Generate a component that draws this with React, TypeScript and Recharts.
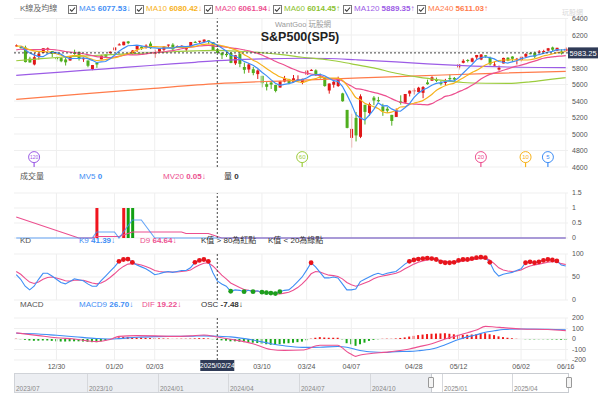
import React from 'react';
import {
  ComposedChart,
  Bar,
  Line,
  XAxis,
  YAxis,
  CartesianGrid,
  ReferenceLine,
  ReferenceDot,
  Cell
} from 'recharts';

const FONT = '"Liberation Sans", Arial, "Noto Sans CJK TC", sans-serif';

const BLUE = '#3f8ef5';
const YELLOW = '#f7b21b';
const PINK = '#ec4f8f';
const LGREEN = '#9ccc3d';
const PURPLE = '#9c5ce6';
const SALMON = '#ff7b4a';
const UP = '#e01818';
const DOWN = '#4fae1e';
const GRID = '#efefef';

// daily candles, 2024/12/16 .. 2025/06/16
const open = [
  6063, 6053, 6048, 5913, 5843, 5941, 5984, 6024, 6006, 5920,
  5920, 5903, 5891, 5982, 5994, 5911, 5891, 5788, 5866, 5905,
  5965, 5979, 6015, 6081, 6076, 6122, 5970, 6026, 6058, 6050,
  6096, 5969, 5998, 6021, 6072, 6083, 6047, 6050, 6025, 6060,
  6116, 6121, 6118, 6135, 6114, 6027, 5983, 5970, 5981, 5857,
  5969, 5812, 5782, 5785, 5726, 5705, 5604, 5624, 5594, 5563,
  5636, 5662, 5632, 5647, 5630, 5718, 5776, 5771, 5696, 5679,
  5527, 5597, 5581, 5492, 5292, 4953, 5194, 4966, 5354, 5255,
  5441, 5411, 5335, 5306, 5232, 5207, 5395, 5381, 5490, 5529,
  5508, 5499, 5625, 5646, 5656, 5617, 5628, 5679, 5679, 5807,
  5863, 5897, 5876, 5929, 5903, 5954, 5921, 5841, 5781, 5855,
  5925, 5939, 5903, 5897, 5938, 5979, 5985, 5987, 6004, 6010,
  6049, 6010, 6000, 6004
];
const high = [
  6085, 6057, 6071, 5936, 5982, 5978, 6040, 6049, 6006, 5941,
  5930, 5935, 5949, 6022, 6001, 5928, 5891, 5837, 5871, 5960,
  5965, 6001, 6052, 6100, 6119, 6128, 6017, 6070, 6062, 6087,
  6120, 6023, 6042, 6062, 6084, 6101, 6073, 6076, 6063, 6116,
  6128, 6129, 6147, 6135, 6115, 6043, 5993, 6009, 5994, 5959,
  5987, 5865, 5861, 5813, 5783, 5705, 5636, 5642, 5597, 5646,
  5704, 5669, 5715, 5711, 5670, 5776, 5786, 5784, 5732, 5685,
  5613, 5651, 5695, 5500, 5292, 5246, 5267, 5481, 5354, 5381,
  5460, 5450, 5367, 5329, 5232, 5310, 5469, 5485, 5528, 5554,
  5572, 5581, 5659, 5700, 5684, 5649, 5668, 5721, 5691, 5845,
  5906, 5907, 5925, 5958, 5968, 5954, 5938, 5878, 5829, 5925,
  5930, 5943, 5922, 5937, 5979, 5991, 5999, 6017, 6021, 6043,
  6059, 6045, 6027, 6050
];
const low = [
  6059, 6035, 5867, 5866, 5832, 5902, 5982, 6007, 5932, 5879,
  5870, 5830, 5889, 5960, 5890, 5874, 5809, 5773, 5802, 5905,
  5931, 5976, 6007, 6076, 6075, 6089, 5962, 5995, 6019, 6035,
  6031, 5924, 5990, 6007, 6052, 6019, 6045, 6043, 6004, 6052,
  6103, 6100, 6111, 6089, 6009, 5977, 5909, 5933, 5858, 5837,
  5810, 5732, 5742, 5712, 5667, 5565, 5528, 5546, 5505, 5563,
  5626, 5603, 5622, 5640, 5603, 5718, 5765, 5703, 5671, 5573,
  5489, 5561, 5571, 5391, 5069, 4835, 4910, 4950, 5115, 5220,
  5349, 5387, 5220, 5256, 5101, 5207, 5356, 5371, 5455, 5478,
  5505, 5434, 5597, 5646, 5629, 5588, 5593, 5640, 5644, 5780,
  5856, 5868, 5868, 5907, 5895, 5924, 5831, 5826, 5768, 5855,
  5882, 5874, 5843, 5879, 5922, 5966, 5921, 5979, 5994, 6000,
  6003, 6004, 5963, 6004
];
const close = [
  6074, 6051, 5872, 5867, 5931, 5974, 6040, 6038, 5971, 5907,
  5882, 5869, 5942, 5975, 5909, 5918, 5827, 5836, 5843, 5950,
  5937, 5997, 6049, 6086, 6119, 6101, 6012, 6068, 6039, 6071,
  6041, 5995, 6038, 6061, 6084, 6026, 6066, 6069, 6052, 6115,
  6115, 6130, 6144, 6118, 6013, 5983, 5955, 5956, 5862, 5955,
  5850, 5778, 5843, 5739, 5770, 5615, 5572, 5599, 5522, 5639,
  5675, 5615, 5675, 5663, 5668, 5768, 5777, 5712, 5693, 5581,
  5612, 5633, 5671, 5397, 5074, 5062, 4983, 5457, 5268, 5363,
  5406, 5397, 5276, 5283, 5158, 5288, 5376, 5485, 5525, 5529,
  5561, 5569, 5604, 5687, 5650, 5607, 5631, 5664, 5660, 5844,
  5887, 5893, 5917, 5958, 5964, 5940, 5845, 5842, 5803, 5922,
  5889, 5912, 5912, 5936, 5970, 5971, 5939, 6000, 6006, 6039,
  6022, 6045, 5977, 6033
];

const ma5 = [
  null, 6062, 6020, 5983, 5959, 5939, 5937, 5970, 5991, 5986,
  5968, 5933, 5914, 5915, 5915, 5923, 5914, 5893, 5867, 5875,
  5879, 5913, 5955, 6004, 6038, 6070, 6073, 6077, 6068, 6058,
  6046, 6043, 6037, 6041, 6044, 6041, 6055, 6061, 6059, 6066,
  6083, 6096, 6111, 6124, 6104, 6078, 6043, 6005, 5954, 5942,
  5916, 5880, 5858, 5833, 5796, 5749, 5708, 5659, 5616, 5589,
  5601, 5610, 5625, 5653, 5659, 5678, 5710, 5718, 5724, 5706,
  5675, 5646, 5638, 5579, 5477, 5367, 5237, 5195, 5169, 5227,
  5295, 5378, 5342, 5345, 5304, 5280, 5276, 5318, 5366, 5441,
  5495, 5534, 5558, 5590, 5614, 5623, 5636, 5648, 5642, 5681,
  5737, 5790, 5840, 5900, 5924, 5934, 5925, 5910, 5879, 5870,
  5860, 5874, 5888, 5914, 5924, 5940, 5946, 5963, 5977, 5991,
  6001, 6022, 6018, 6023
];
const ma10 = [
  6065, 6065, 6044, 6023, 6007, 5999, 6000, 5995, 5987, 5973,
  5954, 5935, 5942, 5953, 5951, 5946, 5924, 5904, 5891, 5895,
  5901, 5914, 5924, 5936, 5957, 5975, 5993, 6016, 6036, 6048,
  6058, 6058, 6057, 6055, 6051, 6044, 6049, 6049, 6050, 6055,
  6062, 6076, 6086, 6092, 6085, 6080, 6070, 6058, 6039, 6023,
  5997, 5962, 5932, 5894, 5869, 5833, 5794, 5759, 5725, 5693,
  5675, 5659, 5642, 5635, 5624, 5640, 5660, 5672, 5689, 5683,
  5677, 5678, 5678, 5652, 5592, 5521, 5442, 5417, 5374, 5352,
  5331, 5308, 5269, 5257, 5266, 5288, 5327, 5330, 5356, 5373,
  5388, 5405, 5438, 5478, 5528, 5559, 5585, 5603, 5616, 5648,
  5680, 5713, 5744, 5771, 5803, 5836, 5858, 5875, 5890, 5897,
  5897, 5900, 5899, 5897, 5897, 5900, 5910, 5926, 5946, 5958,
  5971, 5984, 5991, 6000
];
const ma20 = [
  6020, 6027, 6025, 6023, 6022, 6022, 6025, 6025, 6024, 6018,
  6010, 6000, 5993, 5988, 5979, 5973, 5962, 5950, 5939, 5934,
  5928, 5925, 5933, 5945, 5954, 5961, 5959, 5960, 5964, 5972,
  5980, 5986, 5991, 5996, 6004, 6010, 6021, 6033, 6043, 6052,
  6060, 6067, 6072, 6074, 6068, 6062, 6060, 6054, 6045, 6039,
  6030, 6019, 6009, 5993, 5977, 5957, 5932, 5909, 5882, 5858,
  5836, 5811, 5787, 5765, 5747, 5737, 5727, 5716, 5707, 5688,
  5676, 5669, 5660, 5644, 5608, 5581, 5551, 5545, 5532, 5518,
  5504, 5493, 5474, 5455, 5429, 5405, 5385, 5374, 5365, 5363,
  5360, 5357, 5354, 5368, 5397, 5424, 5456, 5467, 5486, 5511,
  5534, 5559, 5591, 5625, 5666, 5698, 5722, 5739, 5753, 5773,
  5789, 5807, 5822, 5834, 5850, 5868, 5884, 5901, 5918, 5928,
  5934, 5942, 5945, 5949
];
// slow averages read every few sessions
const ma60At = [0, 5, 10, 15, 20, 25, 30, 35, 40, 45, 50, 55, 60, 64, 70, 75, 80, 85, 90, 95, 100, 105, 110, 115, 120, 123];
const ma60 = [5888, 5910, 5930, 5945, 5958, 5972, 5985, 5997, 6008, 6014, 6003, 5985, 5958, 5930, 5897, 5851, 5802, 5736, 5690, 5654, 5624, 5615, 5613, 5632, 5665, 5682];
const ma120At = [0, 10, 20, 30, 40, 45, 55, 64, 70, 76, 85, 92, 100, 110, 123];
const ma120 = [5711, 5751, 5790, 5830, 5869, 5889, 5910, 5918, 5915, 5900, 5875, 5850, 5828, 5812, 5805];
const ma240At = [0, 15, 30, 45, 60, 77, 90, 105, 123];
const ma240 = [5420, 5486, 5550, 5611, 5645, 5680, 5705, 5733, 5760];

// volume (index has almost none)
const volAt = [18, 24, 25, 26];
const volVal = [1, 1, 1, 1];
const volUp = [true, true, false, false];
const mv5At = [0, 17, 18, 22, 23, 24, 25, 26, 28, 29, 30, 31, 123];
const mv5 = [0, 0, 0.2, 0.2, 0, 0.2, 0.4, 0.6, 0.6, 0.4, 0.2, 0, 0];
const mv20At = [0, 14, 17, 18, 23, 24, 25, 26, 37, 38, 43, 44, 45, 46, 123];
const mv20 = [0.7, 0, 0, 0.05, 0.05, 0.1, 0.15, 0.2, 0.2, 0.15, 0.15, 0.1, 0.05, 0, 0];

const k9 = [
  55, 45, 30, 22, 30, 45, 58, 58, 52, 45,
  38, 35, 40, 46, 44, 42, 35, 30, 30, 42,
  52, 62, 72, 84, 88, 89, 82, 76, 72, 68,
  62, 55, 57, 60, 62, 60, 62, 64, 64, 70,
  82, 86, 88, 84, 60, 41.39, 35, 30, 19, 22,
  21, 18, 21, 18, 20, 17, 16, 15, 14, 18,
  21, 22, 30, 40, 50, 65, 81, 72, 60, 48,
  48, 50, 48, 35, 22, 22, 24, 40, 45, 50,
  55, 58, 55, 58, 60, 62, 70, 78, 84, 87,
  89, 90, 91, 90, 88, 83, 81, 81, 82, 86,
  88, 88, 90, 92, 93, 92, 82, 62, 52, 56,
  58, 60, 64, 68, 81, 83, 81, 83, 86, 88,
  87, 85, 76, 74
];
const d9 = [
  62, 56, 47, 39, 36, 39, 45, 49, 50, 48,
  45, 42, 41, 43, 43, 43, 40, 37, 35, 37,
  42, 49, 57, 66, 73, 78, 79, 78, 76, 73,
  69, 64, 62, 61, 61, 61, 61, 62, 63, 65,
  71, 76, 80, 81, 74, 64.64, 54, 46, 37, 32,
  27, 23, 21, 20, 19, 18, 17, 15, 13, 13,
  15, 17, 21, 27, 35, 45, 57, 62, 61, 57,
  54, 53, 51, 46, 38, 33, 30, 33, 37, 41,
  46, 50, 52, 54, 56, 58, 62, 68, 73, 78,
  82, 85, 87, 88, 88, 86, 84, 83, 82, 83,
  85, 86, 87, 89, 90, 91, 87, 79, 70, 65,
  63, 62, 63, 65, 70, 74, 76, 78, 80, 82,
  83, 83, 79, 77
];

const difAt = [0, 5, 9, 13, 18, 21, 23, 27, 31, 35, 39, 42, 45, 48, 53, 57, 60, 64, 68, 72, 73, 74, 75, 76, 77, 79, 83, 85, 88, 90, 93, 96, 99, 101, 103, 105, 107, 109, 113, 119, 123];
const dif = [58, 32, 12, 0, -25, -5, 25, 32, 30, 25, 30, 38, 19.22, -2, -45, -100, -108, -105, -60, -60, -85, -120, -146, -165, -152, -140, -125, -115, -95, -75, -45, 0, 35, 60, 85, 120, 115, 108, 95, 90, 80];
const macdAt = [0, 5, 9, 13, 18, 21, 23, 27, 31, 35, 39, 42, 45, 48, 53, 57, 60, 64, 68, 72, 74, 76, 79, 83, 85, 88, 90, 93, 96, 99, 101, 103, 105, 107, 109, 113, 119, 123];
const macd9 = [55, 48, 35, 22, 5, 0, 4, 17, 23, 25, 26, 30, 26.7, 20, -10, -45, -65, -80, -78, -72, -78, -100, -122, -128, -120, -118, -112, -95, -55, -5, 20, 40, 65, 78, 90, 95, 93, 88];
const osc = [
  3, -2, -8, -14, -17, -16, -14, -14, -18, -22,
  -24, -24, -22, -22, -22, -24, -27, -30, -30, -22,
  -14, -5, 6, 16, 20, 20, 16, 15, 13, 11,
  9, 7, 6, 5, 4, 1, 2, 3, 3, 4,
  6, 8, 8, 5, -2, -7.48, -13, -16, -22, -22,
  -26, -30, -30, -35, -38, -45, -50, -55, -55, -50,
  -43, -40, -35, -30, -25, -12, 3, 12, 18, 14,
  12, 12, 12, -3, -40, -50, -65, -50, -35, -18,
  -8, -2, 2, 3, 2, 5, 10, 15, 23, 30,
  37, 42, 47, 50, 52, 53, 55, 50, 45, 40,
  40, 40, 43, 45, 52, 55, 45, 37, 25, 18,
  12, 6, 2, 0, -2, -3, -3, -2, -2, -3,
  -4, -5, -7, -8
];

const tickIdx = [9, 22, 31, 55, 65, 75, 89, 99, 113, 123];
const tickLabels = ['12/30', '01/20', '02/03', '03/10', '03/24', '04/07', '04/28', '05/12', '06/02', '06/16'];
const priceTicks = [4600, 4800, 5000, 5200, 5400, 5600, 5800, 6000, 6200, 6400];
const focusIdx = 45;
const focusClose = 5983.25;

const markerAt = [4, 64, 104, 114, 119];
const markerText = ['120', '60', '20', '10', '5'];
const markerColor = [PURPLE, LGREEN, PINK, YELLOW, BLUE];

const sparse = (at: number[], vals: number[]) => {
  const out: (number | null)[] = open.map(() => null);
  at.forEach((p, j) => { out[p] = vals[j]; });
  return out;
};
const ma60S = sparse(ma60At, ma60);
const ma120S = sparse(ma120At, ma120);
const ma240S = sparse(ma240At, ma240);
const mv5S = sparse(mv5At, mv5);
const mv20S = sparse(mv20At, mv20);
const difS = sparse(difAt, dif);
const macdS = sparse(macdAt, macd9);

const rows = open.map((o, i) => {
  const v = volAt.indexOf(i);
  return {
    i, o, h: high[i], l: low[i], c: close[i],
    ma5: ma5[i], ma10: ma10[i], ma20: ma20[i],
    ma60: ma60S[i], ma120: ma120S[i], ma240: ma240S[i],
    vol: v >= 0 ? volVal[v] : 0, volUp: v >= 0 ? volUp[v] : true,
    mv5: mv5S[i], mv20: mv20S[i],
    k: k9[i], d: d9[i],
    dif: difS[i], macd: macdS[i], osc: osc[i]
  };
});

const Candle = (p: any) => {
  const { x, width, payload } = p;
  let { y, height } = p;
  if (height < 0) { y += height; height = -height; }
  const { o, h, l, c } = payload;
  const color = c >= o ? UP : DOWN;
  const span = h - l || 1;
  const py = (v: number) => y + ((h - v) / span) * height;
  const top = py(Math.max(o, c));
  const bot = py(Math.min(o, c));
  const cx = x + width / 2;
  return (
    <g>
      <line x1={cx} x2={cx} y1={y} y2={y + height} stroke={color} strokeWidth={1} />
      <rect x={x} y={top} width={width} height={Math.max(bot - top, 1)} fill={color} />
    </g>
  );
};

const kDot = (p: any) => {
  const v = p.payload.k;
  if (v > 80) return <circle key={p.index} cx={p.cx} cy={p.cy} r={2.4} fill="#e8141b" />;
  if (v < 20) return <circle key={p.index} cx={p.cx} cy={p.cy} r={2.4} fill="#1d9e1d" />;
  return <g key={p.index} />;
};

// the price tag covers the 6000 label, as in the source
const PriceTick = (p: any) => {
  const { x, y, payload } = p;
  if (payload.value === 6000) return <g />;
  return <text x={x} y={y + 2.5} fontSize={7} fill="#555">{payload.value}</text>;
};

const PriceTag = (p: any) => {
  const { x, width, y } = p.viewBox;
  return (
    <g>
      <rect x={x + width} y={y - 5.5} width={30} height={11} fill="#2f3b57" />
      <text x={x + width + 15} y={y + 2.8} textAnchor="middle" fontSize={7.5} fill="#fff">5983.25</text>
    </g>
  );
};

const DateTag = (p: any) => {
  const { x, y, height } = p.viewBox;
  return (
    <g>
      <rect x={x - 17} y={y + height} width={34} height={11} fill="#2f3b57" />
      <text x={x} y={y + height + 8} textAnchor="middle" fontSize={7} fill="#fff">2025/02/24</text>
    </g>
  );
};

const Marker = (p: any) => {
  const { cx, cy, color, label } = p;
  return (
    <g>
      <line x1={cx} x2={cx} y1={cy + 5} y2={cy + 10} stroke={color} strokeWidth={1.2} />
      <circle cx={cx} cy={cy} r={5.5} fill="#fff" stroke={color} strokeWidth={1} />
      <text x={cx} y={cy + 2} textAnchor="middle" fontSize={label.length > 2 ? 4.8 : 6} fill={color}>{label}</text>
    </g>
  );
};

const T = ({ x, y, c = '#555', s = 8, b = false, children }: any) => (
  <span style={{ position: 'absolute', left: x, top: y - 6, lineHeight: '12px', fontSize: s, color: c, fontWeight: b ? 700 : 400, whiteSpace: 'nowrap' }}>
    {children}
  </span>
);

const Check = ({ x, y }: any) => (
  <svg style={{ position: 'absolute', left: x, top: y - 4.5 }} width={9} height={9}>
    <rect x={0.5} y={0.5} width={8} height={8} fill="#fff" stroke="#777" />
    <path d="M2 4.5 L3.8 6.3 L7 2.5" stroke="#333" fill="none" strokeWidth={1.1} />
  </svg>
);

const legend = [
  { x: 68, name: 'MA5', val: '6077.53↓', color: BLUE },
  { x: 135, name: 'MA10', val: '6080.42↓', color: YELLOW },
  { x: 204, name: 'MA20', val: '6061.94↓', color: PINK },
  { x: 273, name: 'MA60', val: '6014.45↑', color: '#8cc230' },
  { x: 343, name: 'MA120', val: '5889.35↑', color: PURPLE },
  { x: 417, name: 'MA240', val: '5611.03↑', color: SALMON }
];

const yTick = { fontSize: 7, fill: '#555' };
const M = { top: 0, right: 0, bottom: 0, left: 14 };

const vGrid = () => tickIdx.map((t) => <ReferenceLine key={'g' + t} x={t} stroke={GRID} />);
const focusLine = () => <ReferenceLine x={focusIdx} stroke="#444" strokeDasharray="2 2" />;

const navCells = ['2023/07', '2023/10', '2024/01', '2024/04', '2024/07', '2024/10', '2025/01', '2025/04'];
const navX = [14, 87, 158, 228, 299, 370, 442, 512];

export default function App() {
  return (
    <div style={{ position: 'relative', width: 600, height: 395, background: '#fff', fontFamily: FONT, overflow: 'hidden' }}>
      <style>{'body{margin:0}'}</style>

      {/* main price panel */}
      <div style={{ position: 'absolute', left: 0, top: 0 }}>
        <ComposedChart width={600} height={170} data={rows} margin={{ ...M, top: 18.5, bottom: 3 }} style={{ fontFamily: FONT }}>
          <CartesianGrid stroke={GRID} vertical={false} />
          <XAxis dataKey="i" scale="band" hide />
          <YAxis orientation="right" width={32} domain={[4600, 6400]} allowDataOverflow
            ticks={priceTicks} interval={0}
            tick={PriceTick} tickLine={false} axisLine={false} tickSize={0} tickMargin={4} />
          {vGrid()}
          <Line dataKey="ma240" type="monotone" stroke={SALMON} strokeWidth={1.2} dot={false} connectNulls isAnimationActive={false} />
          <Line dataKey="ma120" type="monotone" stroke={PURPLE} strokeWidth={1.2} dot={false} connectNulls isAnimationActive={false} />
          <Line dataKey="ma60" type="monotone" stroke={LGREEN} strokeWidth={1.2} dot={false} connectNulls isAnimationActive={false} />
          <Line dataKey="ma20" type="monotone" stroke={PINK} strokeWidth={1.2} dot={false} isAnimationActive={false} />
          <Line dataKey="ma10" type="monotone" stroke={YELLOW} strokeWidth={1.2} dot={false} isAnimationActive={false} />
          <Line dataKey="ma5" type="linear" stroke={BLUE} strokeWidth={1.2} dot={false} isAnimationActive={false} />
          <Bar dataKey={(d: any) => [d.l, d.h]} barSize={3} shape={(p: any) => <Candle {...p} />} isAnimationActive={false} />
          <ReferenceLine y={focusClose} stroke="#444" strokeDasharray="2 2" label={PriceTag} />
          {focusLine()}
          {markerAt.map((m, j) => (
            <ReferenceDot key={'m' + m} x={m} y={4720} r={5.5}
              shape={(p: any) => <Marker {...p} color={markerColor[j]} label={markerText[j]} />} />
          ))}
        </ComposedChart>
      </div>

      {/* volume panel */}
      <div style={{ position: 'absolute', left: 0, top: 186 }}>
        <ComposedChart width={600} height={56} data={rows} margin={{ ...M, top: 7, bottom: 4 }} style={{ fontFamily: FONT }}>
          <CartesianGrid stroke={GRID} vertical={false} />
          <XAxis dataKey="i" scale="band" hide />
          <YAxis orientation="right" width={32} domain={[0, 1.5]} ticks={[0, 0.5, 1, 1.5]} interval={0}
            tick={yTick} tickLine={false} axisLine={false} tickSize={0} tickMargin={4} />
          {vGrid()}
          <Bar dataKey="vol" barSize={3} isAnimationActive={false}>
            {rows.map((r) => <Cell key={r.i} fill={r.volUp ? '#f0141e' : '#12a012'} />)}
          </Bar>
          <Line dataKey="mv20" type="linear" stroke={PINK} strokeWidth={1.1} dot={false} connectNulls isAnimationActive={false} />
          <Line dataKey="mv5" type="linear" stroke={BLUE} strokeWidth={1.1} dot={false} connectNulls strokeOpacity={0.8} isAnimationActive={false} />
          {focusLine()}
        </ComposedChart>
      </div>

      {/* KD panel */}
      <div style={{ position: 'absolute', left: 0, top: 248 }}>
        <ComposedChart width={600} height={56} data={rows} margin={{ ...M, top: 6, bottom: 4 }} style={{ fontFamily: FONT }}>
          <CartesianGrid stroke={GRID} vertical={false} />
          <XAxis dataKey="i" scale="band" hide />
          <YAxis orientation="right" width={32} domain={[0, 100]} ticks={[0, 50, 100]} interval={0}
            tick={yTick} tickLine={false} axisLine={false} tickSize={0} tickMargin={4} />
          {vGrid()}
          <Line dataKey="d" type="linear" stroke={PINK} strokeWidth={1.1} dot={false} isAnimationActive={false} />
          <Line dataKey="k" type="linear" stroke={BLUE} strokeWidth={1.1} dot={false} isAnimationActive={false} />
          <Line dataKey="k" type="linear" stroke="none" dot={kDot} activeDot={false} isAnimationActive={false} />
          {focusLine()}
        </ComposedChart>
      </div>

      {/* MACD panel */}
      <div style={{ position: 'absolute', left: 0, top: 312 }}>
        <ComposedChart width={600} height={70} data={rows} margin={{ ...M, top: 6, bottom: 8 }} style={{ fontFamily: FONT }}>
          <CartesianGrid stroke={GRID} vertical={false} />
          <XAxis dataKey="i" scale="band" ticks={tickIdx} interval={0} height={14}
            tickFormatter={(v: number) => tickLabels[tickIdx.indexOf(v)]}
            tick={{ fontSize: 7, fill: '#555' }} tickLine={false} axisLine={false} tickSize={0} tickMargin={4} />
          <YAxis orientation="right" width={32} domain={[-200, 200]} ticks={[-200, -100, 0, 100, 200]} interval={0}
            tick={yTick} tickLine={false} axisLine={false} tickSize={0} tickMargin={4} />
          {vGrid()}
          <Bar dataKey="osc" barSize={2} isAnimationActive={false}>
            {rows.map((r) => <Cell key={r.i} fill={r.osc >= 0 ? '#f01818' : '#18a818'} />)}
          </Bar>
          <Line dataKey="macd" type="monotone" stroke={BLUE} strokeWidth={1.1} dot={false} connectNulls isAnimationActive={false} />
          <Line dataKey="dif" type="monotone" stroke={PINK} strokeWidth={1.1} dot={false} connectNulls isAnimationActive={false} />
          <ReferenceLine x={focusIdx} stroke="#444" strokeDasharray="2 2" label={DateTag} />
        </ComposedChart>
      </div>

      {/* header legend */}
      <T x={20} y={9} c="#666">K線及均線</T>
      {legend.map((g) => (
        <React.Fragment key={g.name}>
          <Check x={g.x} y={9} />
          <span style={{ position: 'absolute', left: g.x + 11, top: 3, lineHeight: '12px', fontSize: 8, color: g.color, whiteSpace: 'nowrap' }}>
            {g.name} <b>{g.val}</b>
          </span>
        </React.Fragment>
      ))}
      <T x={562} y={13} c="#d8d8d8" s={7}>玩股網</T>
      <T x={275} y={25} c="#9a9a9a" s={7.5}>WantGoo 玩股網</T>
      <span style={{ position: 'absolute', left: 250, width: 100, textAlign: 'center', top: 30, lineHeight: '14px', fontSize: 12.5, fontWeight: 700, color: '#222' }}>S&amp;P500(SP5)</span>

      {/* panel captions */}
      <T x={20} y={177}>成交量</T>
      <T x={79} y={177} c={BLUE}>MV5 <b>0</b></T>
      <T x={163} y={177} c={PINK}>MV20 <b>0.05↓</b></T>
      <T x={224} y={177} c="#333">量 <b>0</b></T>

      <T x={20} y={241}>KD</T>
      <T x={79} y={241} c={BLUE}>K9 <b>41.39↓</b></T>
      <T x={140} y={241} c={PINK}>D9 <b>64.64↓</b></T>
      <T x={201} y={241} c="#333">K值 &gt; 80為紅點</T>
      <T x={268} y={241} c="#333">K值 &lt; 20為綠點</T>

      <T x={20} y={305}>MACD</T>
      <T x={79} y={305} c={BLUE}>MACD9 <b>26.70↓</b></T>
      <T x={142} y={305} c={PINK}>DIF <b>19.22↓</b></T>
      <T x={201} y={305} c="#333">OSC <b>-7.48↓</b></T>

      {/* range navigator */}
      <div style={{ position: 'absolute', left: 14, top: 373, width: 555, height: 20, background: '#eceef2', border: '1px solid #d0d3d8', boxSizing: 'border-box' }} />
      <div style={{ position: 'absolute', left: 431, top: 373, width: 138, height: 20, background: '#fff', border: '1px solid #c8cbd0', boxSizing: 'border-box' }} />
      {navX.map((x, j) => (
        <React.Fragment key={navCells[j]}>
          {j > 0 && <div style={{ position: 'absolute', left: x, top: 374, width: 1, height: 18, background: '#d6d8dc' }} />}
          <T x={x + 2} y={389} c="#888" s={6.5}>{navCells[j]}</T>
        </React.Fragment>
      ))}
      {[431, 569].map((x) => (
        <div key={x} style={{ position: 'absolute', left: x - 3, top: 377, width: 6, height: 11, background: '#f4f4f4', border: '1px solid #999', borderRadius: 1, boxSizing: 'border-box' }} />
      ))}
    </div>
  );
}
